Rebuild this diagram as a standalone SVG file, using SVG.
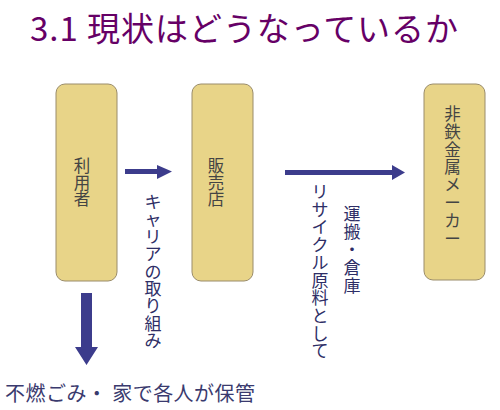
<svg xmlns="http://www.w3.org/2000/svg" width="500" height="410" viewBox="0 0 500 410">
<defs>
<style>
.title{font-family:"Noto Sans CJK JP","Liberation Sans",sans-serif;font-size:33px;fill:#660066}
.box{fill:#E8D488;stroke:#9a8c6a;stroke-width:1}
.bl{font-family:"Noto Sans CJK JP",sans-serif;font-size:16.5px;fill:#444444;text-anchor:middle}
.al{font-family:"Noto Sans CJK JP",sans-serif;font-size:17px;fill:#2e2e66;text-anchor:middle}
.bt{font-family:"Noto Sans CJK JP",sans-serif;font-size:20px;fill:#3a3a6e}
.arr{fill:#3c3c8c}
</style>
</defs>
<rect width="500" height="410" fill="#ffffff"/>
<text class="title" x="30" y="41" textLength="428" lengthAdjust="spacing">3.1 現状はどうなっているか</text>

<g id="user">
<rect class="box" x="56" y="84" width="61" height="197" rx="9"/>
<text class="bl"><tspan x="82" y="172">利</tspan><tspan x="82" dy="16.5">用</tspan><tspan x="82" dy="16.5">者</tspan></text>
</g>
<g id="shop">
<rect class="box" x="192" y="84" width="61" height="197" rx="9"/>
<text class="bl"><tspan x="216" y="172">販</tspan><tspan x="216" dy="16.5">売</tspan><tspan x="216" dy="16.5">店</tspan></text>
</g>
<g id="maker">
<rect class="box" x="424" y="84" width="61" height="196" rx="9"/>
<text class="bl"><tspan x="452.5" y="120">非</tspan><tspan x="452.5" dy="17.8">鉄</tspan><tspan x="452.5" dy="17.8">金</tspan><tspan x="452.5" dy="17.8">属</tspan><tspan x="452.5" dy="17.8">メ</tspan><tspan x="452.5" dy="17.8">ー</tspan><tspan x="452.5" dy="17.8">カ</tspan><tspan x="452.5" dy="17.8">ー</tspan></text>
</g>

<g id="connectors">
<polygon class="arr" points="125,169 157,169 157,165 172,171.5 157,179 157,174 125,174"/>
<polygon class="arr" points="285,170 392,170 392,165 405,172.5 392,180 392,175 285,175"/>
<polygon class="arr" points="81,293 92,293 92,347 98,347 86.5,365 75,347 81,347"/>
</g>

<g id="labels">
<text class="al"><tspan x="153" y="208">キ</tspan><tspan x="153" dy="17.4">ャ</tspan><tspan x="153" dy="17.4">リ</tspan><tspan x="153" dy="17.4">ア</tspan><tspan x="153" dy="17.4">の</tspan><tspan x="153" dy="17.4">取</tspan><tspan x="153" dy="17.4">り</tspan><tspan x="153" dy="17.4">組</tspan><tspan x="153" dy="17.4">み</tspan></text>
<text class="al"><tspan x="320" y="198">リ</tspan><tspan x="320" dy="17.7">サ</tspan><tspan x="320" dy="17.7">イ</tspan><tspan x="320" dy="17.7">ク</tspan><tspan x="320" dy="17.7">ル</tspan><tspan x="320" dy="17.7">原</tspan><tspan x="320" dy="17.7">料</tspan><tspan x="320" dy="17.7">と</tspan><tspan x="320" dy="17.7">し</tspan><tspan x="320" dy="17.7">て</tspan></text>
<text class="al"><tspan x="352" y="220">運</tspan><tspan x="352" dy="18">搬</tspan><tspan x="352" dy="18">・</tspan><tspan x="352" dy="18">倉</tspan><tspan x="352" dy="18">庫</tspan></text>
<text class="bt" x="5" y="401" textLength="250" lengthAdjust="spacing">不燃ごみ・ 家で各人が保管</text>
</g>
</svg>
